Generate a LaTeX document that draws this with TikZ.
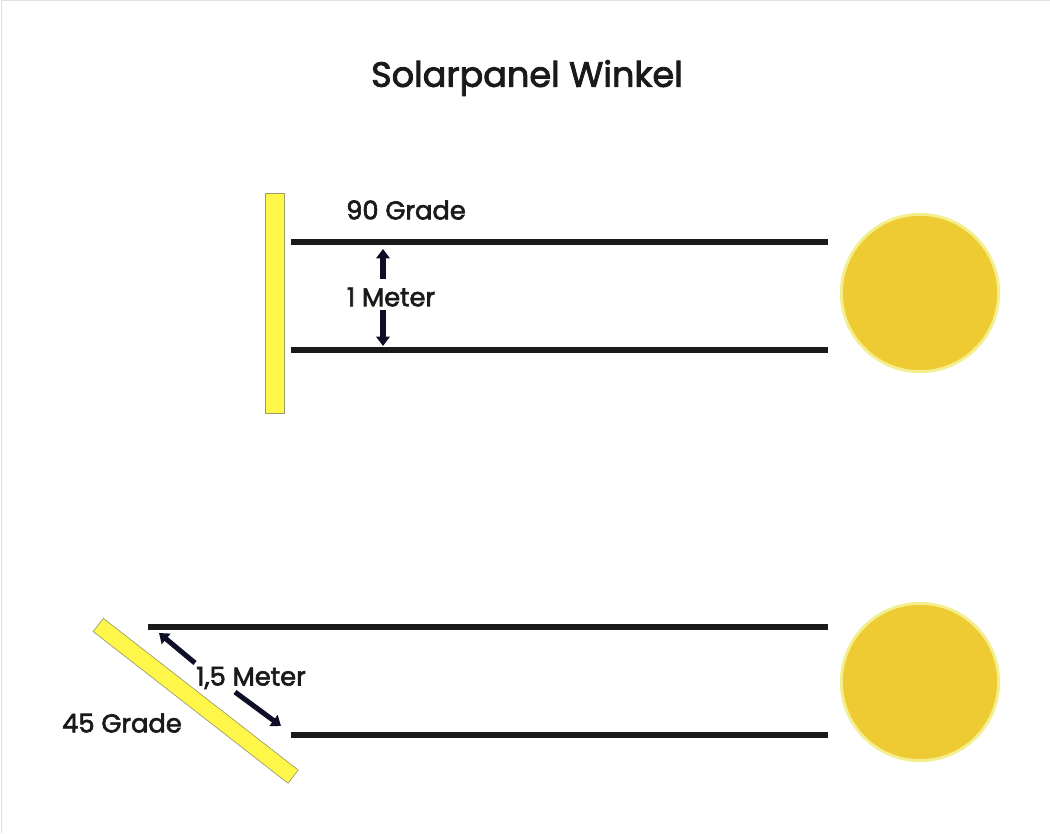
\documentclass[tikz,border=0pt]{standalone}
\usepackage{fontspec}
\setmainfont{Poppins}
\newfontfamily\poppinsmedium{Poppins}[FakeBold=2.5]
\usetikzlibrary{arrows.meta}
\definecolor{panelyellow}{HTML}{FFF64A}
\definecolor{panelrim}{HTML}{9A9A70}
\definecolor{sunfill}{HTML}{EECB33}
\definecolor{sunrim}{HTML}{F3EE8E}
\definecolor{rayblack}{HTML}{1A1A1A}
\definecolor{arrownavy}{HTML}{0E0E26}
\tikzset{
	ray/.style={rayblack, line width=4.5pt},
	panel/.style={draw=panelrim, fill=panelyellow, line width=.5pt, minimum width=14.5pt, minimum height=165pt, inner sep=0pt},
	sun/.style={circle, draw=sunrim, fill=sunfill, line width=2.2pt, minimum size=118pt, inner sep=0pt},
	label/.style={font=\poppinsmedium\fontsize{19.3}{22}\selectfont, text=rayblack, inner sep=1pt},
	measure/.style={arrownavy, line width=3.8pt, -{Triangle[length=7pt, width=10pt]}}
}
\begin{document}
\begin{tikzpicture}[x=.75pt, y=-.75pt]
	\useasboundingbox (0,0) rectangle (1050,833);
	\draw[gray!25, line width=1pt] (1.5,833) -- (1.5,.5) -- (1050,.5);
	\node[font=\poppinsmedium\fontsize{26.3}{30}\selectfont, text=rayblack] (title) at (527,78) {Solarpanel Winkel};

	% 90 Grade
	\node[panel] (panel90) at (274.5,303) {};
	\node[sun] (sun90) at (920,293) {};
	\coordinate (r1a) at (291,242); \coordinate (r1b) at (828,242);
	\coordinate (r2a) at (291,350); \coordinate (r2b) at (828,350);
	\draw[ray] (r1a) -- (r1b) (r2a) -- (r2b);
	\node[label] (deg90) at (406,210) {90 Grade};
	\node[label] (len90) at (391,297) {1 Meter};
	\coordinate (up) at (383,249); \coordinate (down) at (383,346);
	\draw[measure] (383,279) -- (up);
	\draw[measure] (383,310) -- (down);

	% 45 Grade
	\node[panel, minimum width=247pt*.75, minimum height=12.5pt, rotate=-37.9] (panel45) at (195.7,700.8) {};
	\node[sun] (sun45) at (920,682) {};
	\coordinate (r3a) at (148,627); \coordinate (r3b) at (828,627);
	\coordinate (r4a) at (291,735); \coordinate (r4b) at (828,735);
	\draw[ray] (r3a) -- (r3b) (r4a) -- (r4b);
	\node[label] (deg45) at (122,723) {45 Grade};
	\node[label] (len45) at (251,678) {1,5 Meter};
	\coordinate (upleft) at (159,633); \coordinate (downright) at (281,726);
	\draw[measure] (195,663) -- (upleft);
	\draw[measure] (235,692) -- (downright);
\end{tikzpicture}
\end{document}
